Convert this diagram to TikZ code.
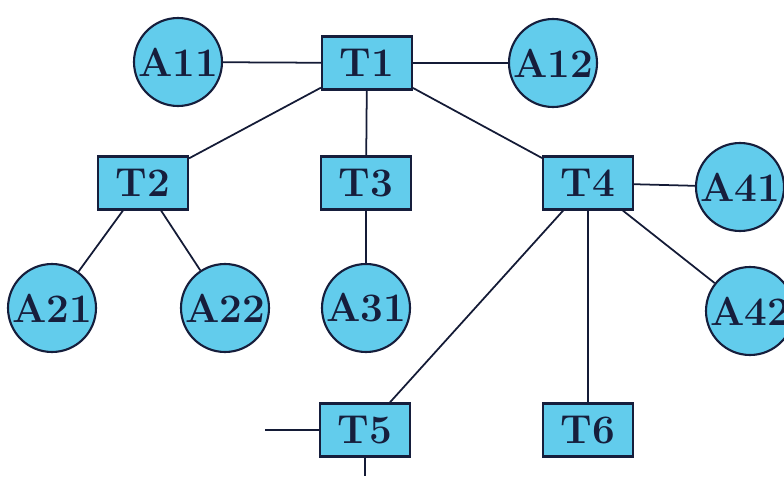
\documentclass[tikz,border=0pt]{standalone}
\definecolor{nodefill}{RGB}{98,204,236}
\definecolor{inkblue}{RGB}{22,30,60}
\begin{document}
\begin{tikzpicture}[
    tbox/.style={rectangle, draw=inkblue, line width=1.2pt, fill=nodefill, minimum width=1.8cm, minimum height=1.06cm, inner sep=0pt, font=\fontsize{23}{25}\selectfont\bfseries, text=inkblue},
    acirc/.style={circle, draw=inkblue, line width=1.2pt, fill=nodefill, minimum size=1.76cm, inner sep=-2pt, font=\fontsize{23}{25}\selectfont\bfseries, text=inkblue},
    link/.style={draw=inkblue!90!black, line width=1pt}]
    \useasboundingbox (0,0) rectangle (15.68,9.52);

    % Tasks
    \node[tbox] (T1) at (7.34,8.26) {T1};
    \node[tbox] (T2) at (2.86,5.86) {T2};
    \node[tbox] (T3) at (7.32,5.86) {T3};
    \node[tbox] (T4) at (11.76,5.86) {T4};
    \node[tbox] (T5) at (7.3,0.92) {T5};
    \node[tbox] (T6) at (11.76,0.92) {T6};

    % Actions
    \node[acirc] (A11) at (3.56,8.28) {A11};
    \node[acirc] (A12) at (11.06,8.26) {A12};
    \node[acirc] (A21) at (1.04,3.36) {A21};
    \node[acirc] (A22) at (4.5,3.36) {A22};
    \node[acirc] (A31) at (7.32,3.36) {A31};
    \node[acirc] (A41) at (14.8,5.78) {A41};
    \node[acirc] (A42) at (15.0,3.3) {A42};

    % Loose ends
    \coordinate (L5) at (5.3,0.92);
    \coordinate (B5) at (7.3,0);

    % Edges
    \draw[link] (A11) -- (T1) -- (A12);
    \draw[link] (T1) -- (T2);
    \draw[link] (T1) -- (T3);
    \draw[link] (T1) -- (T4);
    \draw[link] (T2) -- (A21);
    \draw[link] (T2) -- (A22);
    \draw[link] (T3) -- (A31);
    \draw[link] (T4) -- (A41);
    \draw[link] (T4) -- (A42);
    \draw[link] (T4) -- (T5);
    \draw[link] (T4) -- (T6);
    \draw[link] (L5) -- (T5);
    \draw[link] (T5) -- (B5);
\end{tikzpicture}
\end{document}
